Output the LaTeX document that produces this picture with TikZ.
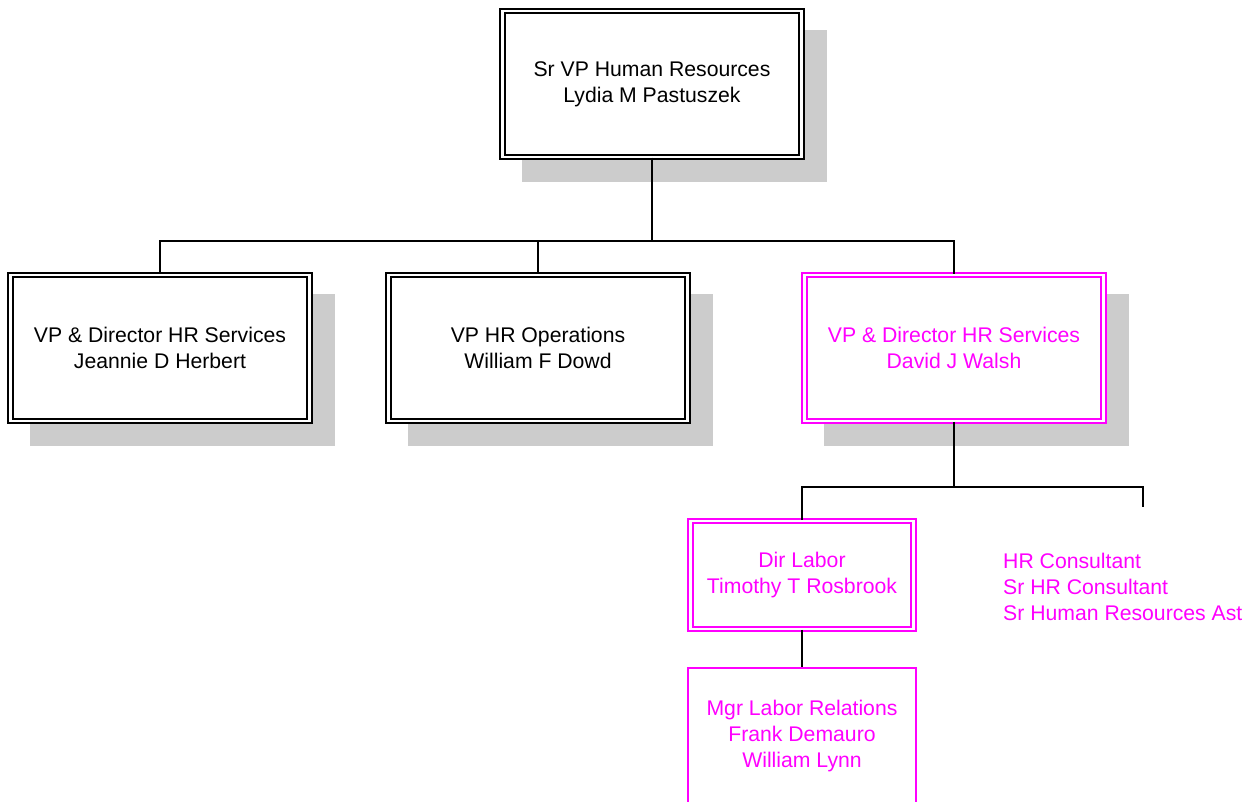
\documentclass[tikz,border=0pt]{standalone}
\usepackage{fontspec}
\setmainfont{Liberation Sans}
\usetikzlibrary{positioning,shadows}
\definecolor{hrpink}{HTML}{FF00FF}
\definecolor{shade}{HTML}{CCCCCC}

\begin{document}
\begin{tikzpicture}[x=1pt,y=-1pt,font=\fontsize{21.2}{26}\selectfont,
      link/.style={line width=1.8pt},
      posbox/.style={draw,double,line width=1.7pt,double distance=2.8pt,fill=white,align=center,inner sep=0pt,minimum width=299pt,minimum height=146pt},
      shad/.style={drop shadow={shadow xshift=22pt,shadow yshift=-22pt,fill=shade,draw=shade,line width=6pt,opacity=1}},
      pink/.style={draw=hrpink,text=hrpink}]
    \useasboundingbox (0,0) rectangle (1251,801);
    \node[posbox,shad] (svp) at (652,84) {Sr VP Human Resources\\Lydia M Pastuszek};
    \node[posbox,shad] (jdh) at (160,348) {VP \& Director HR Services\\Jeannie D Herbert};
    \node[posbox,shad] (wfd) at (538,348) {VP HR Operations\\William F Dowd};
    \node[posbox,shad,pink] (djw) at (954,348) {VP \& Director HR Services\\David J Walsh};
    \node[posbox,pink,minimum width=223pt,minimum height=108pt] (ttr) at (802,575) {Dir Labor\\Timothy T Rosbrook};
    \node[draw=hrpink,text=hrpink,line width=1.8pt,align=center,inner sep=0pt,minimum width=228pt,minimum height=136pt] (mlr) at (802,736) {Mgr Labor Relations\\Frank Demauro\\William Lynn};
    \node[text=hrpink,align=left,inner sep=0pt,anchor=west] (cons) at (1003,587) {HR Consultant\\Sr HR Consultant\\Sr Human Resources Ast};
    \coordinate (consend) at (1143,507);
    % connectors
    \draw[link] (svp.south) -- ++(0,83) -| (jdh.north);
    \draw[link] (svp.south) -- ++(0,83) -| (wfd.north);
    \draw[link] (svp.south) -- ++(0,83) -| (djw.north);
    \draw[link] (djw.south) -- ++(0,65) -| (ttr.north);
    \draw[link] (djw.south) -- ++(0,65) -| (consend);
    \draw[link] (ttr.south) -- (mlr.north);
  \end{tikzpicture}
\end{document}
